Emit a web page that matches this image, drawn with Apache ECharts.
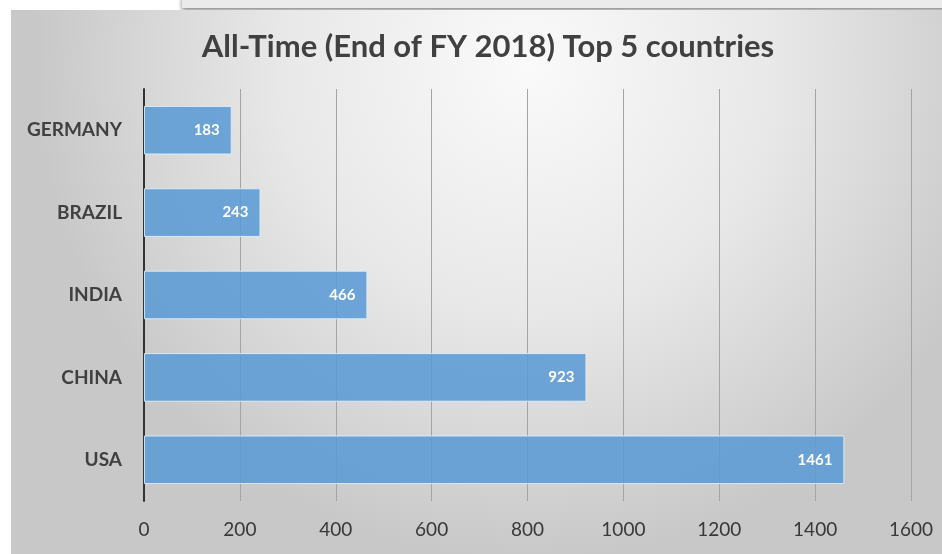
<!DOCTYPE html>
<html>
<head>
<meta charset="utf-8">
<style>
  html, body { margin: 0; padding: 0; background: #ffffff; }
  #chart { width: 942px; height: 554px; }
</style>
<script src="https://cdn.jsdelivr.net/npm/echarts@6/dist/echarts.min.js"></script>
</head>
<body>
<div id="chart"></div>
<script>
// Countries ranked by all-time count at the end of FY 2018
const countries = ['GERMANY', 'BRAZIL', 'INDIA', 'CHINA', 'USA'];
const totals = [183, 243, 466, 923, 1461];
const axisMax = 1600;
const axisStep = 200;

const chart = echarts.init(document.getElementById('chart'), null, { renderer: 'canvas' });
const FONT = 'Lato, "Open Sans", sans-serif';

chart.setOption({
  backgroundColor: '#ffffff',
  graphic: [
    // panel frame above the chart
    {
      type: 'rect', z: -10, silent: true,
      shape: { x: 182, y: -4, width: 770, height: 12 },
      style: {
        fill: '#ebebeb',
        shadowBlur: 4, shadowColor: 'rgba(0,0,0,0.5)', shadowOffsetY: 2
      }
    },
    // chart area with soft radial shading
    {
      type: 'rect', z: -9, silent: true,
      shape: { x: 11, y: 10, width: 940, height: 550 },
      style: {
        fill: {
          type: 'radial', x: 0.55, y: 0.1, r: 0.9,
          colorStops: [
            { offset: 0, color: '#fafafa' },
            { offset: 0.5, color: '#e8e8e8' },
            { offset: 1, color: '#c8c8c8' }
          ]
        }
      }
    }
  ],
  title: {
    text: 'All-Time (End of FY 2018) Top 5 countries',
    left: 483,
    top: 26,
    textAlign: 'center',
    textStyle: {
      fontFamily: FONT,
      fontSize: 31,
      fontWeight: 'bold',
      color: '#404040'
    }
  },
  grid: { left: 144, right: 31, top: 89, bottom: 53 },
  xAxis: {
    type: 'value',
    min: 0,
    max: axisMax,
    interval: axisStep,
    axisLine: { show: false },
    axisTick: { show: false },
    splitLine: { show: true, lineStyle: { color: '#a4a4a4', width: 1 } },
    axisLabel: {
      margin: 19,
      fontFamily: FONT,
      fontSize: 19,
      color: '#383838',
      formatter: (v) => String(v)
    }
  },
  yAxis: {
    type: 'category',
    data: countries,
    inverse: true,
    axisLine: { show: true, lineStyle: { color: '#333333', width: 2 } },
    axisTick: { show: false },
    axisLabel: {
      margin: 22,
      fontFamily: FONT,
      fontSize: 19,
      fontWeight: 'bold',
      color: '#404040'
    }
  },
  series: [{
    type: 'bar',
    data: totals,
    barCategoryGap: '41%',
    itemStyle: {
      color: 'rgba(91,155,213,0.88)',
      borderColor: 'rgba(225,238,250,0.9)',
      borderWidth: 1
    },
    label: {
      show: true,
      position: 'insideRight',
      distance: 12,
      fontFamily: FONT,
      fontSize: 15,
      fontWeight: 'bold',
      color: '#ffffff'
    }
  }]
});
</script>
</body>
</html>
